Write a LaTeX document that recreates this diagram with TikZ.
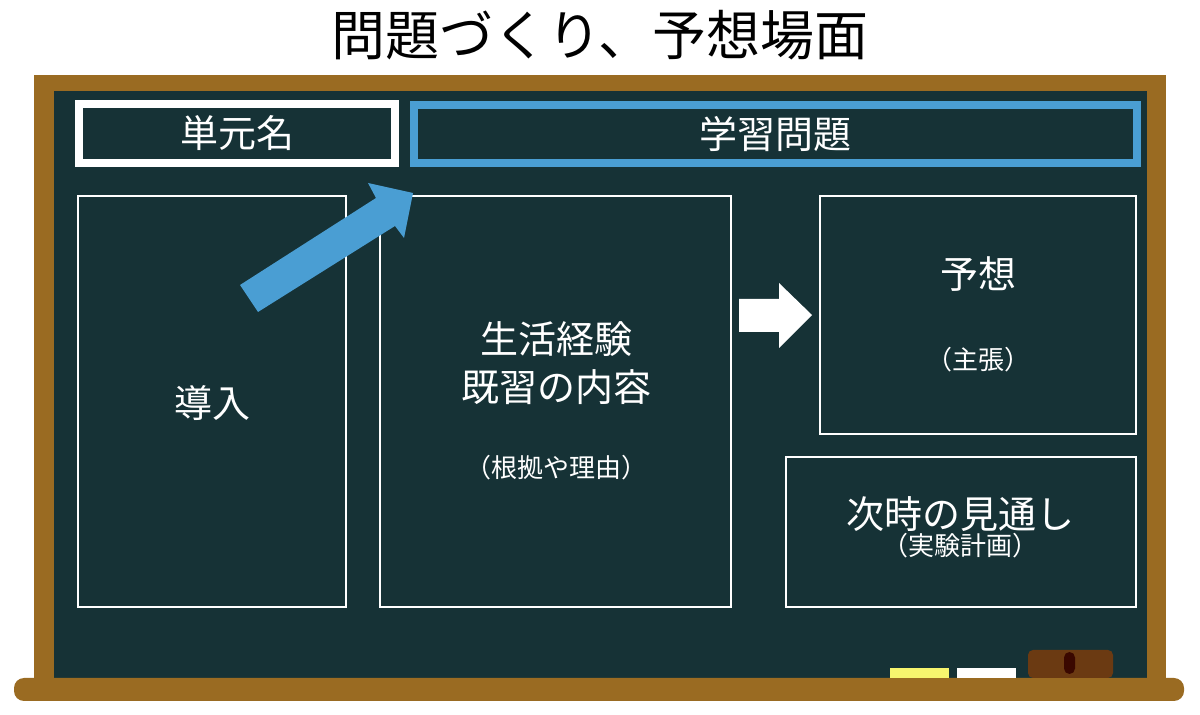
\documentclass[tikz,border=0pt]{standalone}
\usepackage{fontspec}
\setmainfont{Noto Sans CJK JP}
\usetikzlibrary{fit}
\definecolor{frame}{HTML}{9A6B22}
\definecolor{board}{HTML}{163236}
\definecolor{bluebox}{HTML}{4A9ED3}
\definecolor{chalky}{HTML}{F7F56E}
\definecolor{eraser}{HTML}{6B3A12}
\definecolor{handle}{HTML}{3A0800}
\begin{document}
\begin{tikzpicture}[x=0.5pt,y=-0.5pt,
  boxw/.style={draw=white,line width=1pt,inner sep=0pt},
  txt/.style={text=white,font=\fontsize{19}{24}\selectfont,inner sep=0pt},
  smalltxt/.style={text=white,font=\fontsize{13}{16}\selectfont,inner sep=0pt}]
\useasboundingbox (0,0) rectangle (1200,715);
\fill[white] (0,0) rectangle (1200,715);
\node[font=\fontsize{27}{32}\selectfont,inner sep=0pt] (title) at (600,35) {問題づくり、予想場面};
% blackboard
\fill[frame] (34,75) rectangle (1166,690);
\fill[board] (54,91) rectangle (1147,678);
\fill[frame,rounded corners=5pt] (14,678) rectangle (1184,701);
% chalk and eraser
\fill[chalky] (890,668) rectangle (949,678);
\fill[white] (957,668) rectangle (1016,678);
\fill[eraser,rounded corners=2.5pt] (1028,650) rectangle (1113,678);
\fill[handle,rounded corners=2.75pt] (1064,652) rectangle (1075,674);
% header boxes
\node[draw=white,line width=4pt,inner sep=0pt,fit={(79,104) (395,163)}] (unit) {};
\node[txt] (unitt) at (unit.center) {単元名};
\node[draw=bluebox,line width=4.25pt,inner sep=0pt,fit={(414,105) (1137,163)}] (problem) {};
\node[txt] (problemt) at (problem.center) {学習問題};
% content boxes
\node[boxw,fit={(78,196) (346,607)}] (intro) {};
\node[txt] (introt) at (212,403) {導入};
\node[boxw,fit={(380,196) (731,607)}] (life) {};
\node[txt] (lifet1) at (556,339) {生活経験};
\node[txt] (lifet2) at (556,387) {既習の内容};
\node[smalltxt] (lifet3) at (556,468) {（根拠や理由）};
\node[boxw,fit={(820,196) (1136,434)}] (pred) {};
\node[txt] (predt1) at (978,274) {予想};
\node[smalltxt] (predt2) at (978,360) {（主張）};
\node[boxw,fit={(786,457) (1136,607)}] (next) {};
\node[txt] (nextt1) at (960,514) {次時の見通し};
\node[smalltxt] (nextt2) at (960,546) {（実験計画）};
% arrows
\fill[bluebox] (240,285) -- (376,198) -- (368,183) -- (413,193) -- (404,238) -- (395,226) -- (258,312) -- cycle;
\fill[white] (739,299) -- (779,299) -- (779,283) -- (812,315) -- (779,348) -- (779,332) -- (739,332) -- cycle;
\end{tikzpicture}
\end{document}
